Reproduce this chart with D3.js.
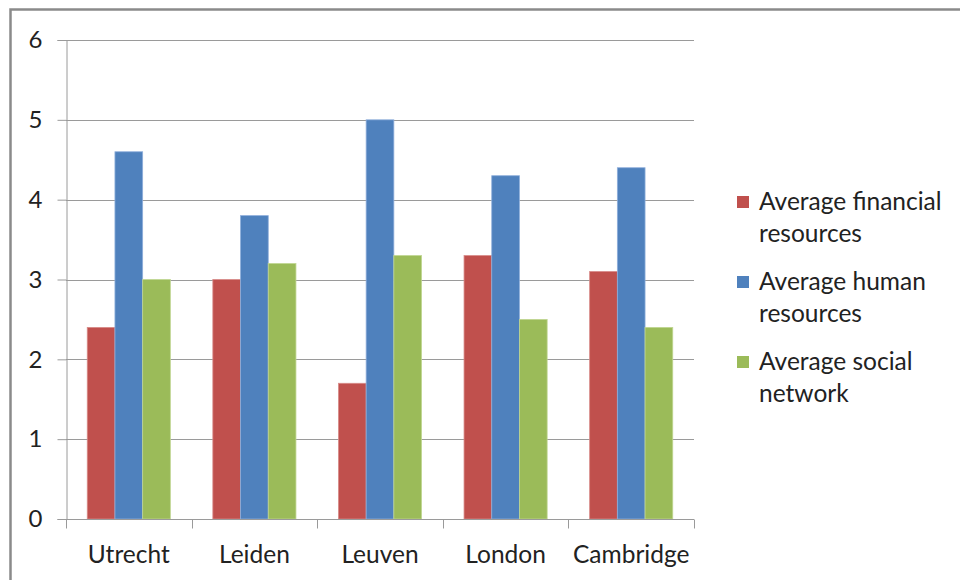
<!DOCTYPE html>
<html><head><meta charset="utf-8">
<script src="https://cdn.jsdelivr.net/npm/d3@7"></script>
<style>
html,body{margin:0;padding:0;background:#fff;}
svg{display:block;font-family:Lato, "Open Sans", sans-serif;}
</style></head>
<body>
<svg id="c" width="960" height="580"></svg>
<script>
const categories = ["Utrecht", "Leiden", "Leuven", "London", "Cambridge"];
const seriesNames = ["Average financial resources", "Average human resources", "Average social network"];
const financial = [2.4, 3.0, 1.7, 3.3, 3.1];
const human = [4.6, 3.8, 5.0, 4.3, 4.4];
const social = [3.0, 3.2, 3.3, 2.5, 2.4];
const yTicks = [0, 1, 2, 3, 4, 5, 6];
const legendLines = [["Average financial", "resources"], ["Average human", "resources"], ["Average social", "network"]];
const colors = ["#C0504D", "#4F81BD", "#9BBB59"];
const strokeColors = ["#d88b89", "#8eaedb", "#c0d692"];

const series = [financial, human, social];
const svg = d3.select("#c");

// outer frame
svg.append("rect").attr("x", 10.5).attr("y", 9.5).attr("width", 1000).attr("height", 1000)
  .attr("fill", "none").attr("stroke", "#8a8a8a").attr("stroke-width", 2.5);

const plot = {left: 66, right: 694, top: 40, bottom: 519};
const x = d3.scaleBand().domain(categories).range([plot.left, plot.right]).paddingInner(0).paddingOuter(0);
const y = d3.scaleLinear().domain([0, 6]).range([plot.bottom, plot.top]);
const inner = d3.scaleBand().domain(d3.range(3)).range([0, x.bandwidth()]).paddingOuter(0.767).paddingInner(0);

// gridlines
svg.append("g").selectAll("line").data(yTicks.filter(d => d > 0)).join("line")
  .attr("x1", plot.left).attr("x2", plot.right)
  .attr("y1", d => Math.round(y(d)) + 0.5).attr("y2", d => Math.round(y(d)) + 0.5)
  .attr("stroke", "#9a9a9a").attr("stroke-width", 1);

// bars
series.forEach((vals, si) => {
  svg.append("g").selectAll("rect").data(vals).join("rect")
    .attr("x", (d, i) => x(categories[i]) + inner(si))
    .attr("y", d => y(d))
    .attr("width", inner.bandwidth())
    .attr("height", d => y(0) - y(d))
    .attr("fill", colors[si])
    .attr("stroke", strokeColors[si]).attr("stroke-width", 0.8);
});

// y axis
const yAxis = d3.axisLeft(y).tickValues(yTicks).tickSize(9).tickPadding(15).tickFormat(d3.format("d"));
const gy = svg.append("g").attr("transform", `translate(${plot.left + 0.5},0)`).call(yAxis);
gy.select(".domain").attr("stroke", "#9a9a9a");
gy.selectAll(".tick line").attr("stroke", "#9a9a9a");
gy.selectAll(".tick text").attr("font-size", 24).attr("fill", "#222").attr("font-family", "Lato, sans-serif");

// x axis
const xAxis = d3.axisBottom(x).tickSize(0).tickPadding(0);
const gx = svg.append("g").attr("transform", `translate(0,${plot.bottom + 0.5})`).call(xAxis);
gx.select(".domain").attr("stroke", "#9a9a9a").attr("d", `M${plot.left},0H${plot.right}`);
gx.selectAll(".tick text").attr("font-size", 24.5).attr("fill", "#222").attr("font-family", "Lato, sans-serif")
  .attr("dy", 0).attr("y", 43);
// boundary tick marks
const bounds = categories.map(c => x(c)).concat([plot.right]);
gx.append("g").selectAll("line").data(bounds).join("line")
  .attr("x1", d => Math.round(d) + 0.5).attr("x2", d => Math.round(d) + 0.5)
  .attr("y1", 0).attr("y2", 9).attr("stroke", "#9a9a9a");

// legend
const lg = svg.append("g");
legendLines.forEach((lines, i) => {
  const cy = 202 + i * 80;
  lg.append("rect").attr("x", 737).attr("y", cy - 6).attr("width", 12).attr("height", 12).attr("fill", colors[i]);
  lines.forEach((t, j) => {
    lg.append("text").attr("x", 759).attr("y", cy + 8 + j * 32).text(t)
      .attr("font-size", 24.5).attr("fill", "#222");
  });
});
</script>
</body></html>
